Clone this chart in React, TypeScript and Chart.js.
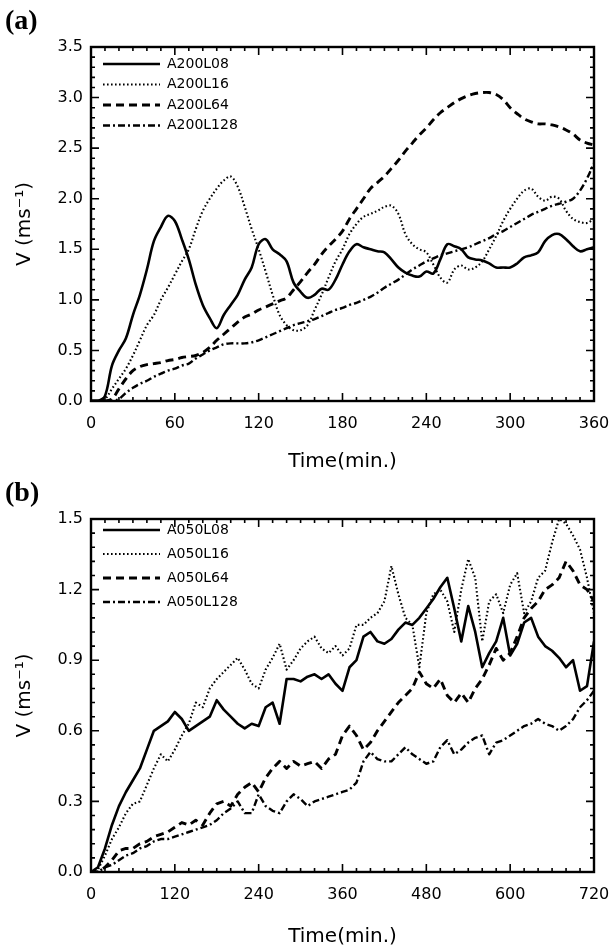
import React, { useEffect, useRef } from 'react';
import { Chart, registerables } from 'chart.js';
Chart.register(...registerables);

// ---------- Panel (a) data: time step 5 min ----------
const TIME_A = Array.from({ length: 73 }, (_, i) => i * 5);
const A200L08 = [
  0, 0, 0.05, 0.35, 0.5, 0.62, 0.85, 1.05, 1.3, 1.58,
  1.72, 1.83, 1.78, 1.6, 1.4, 1.15, 0.95, 0.82, 0.72, 0.85,
  0.95, 1.05, 1.2, 1.32, 1.55, 1.6, 1.5, 1.45, 1.38, 1.17,
  1.08, 1.02, 1.05, 1.11, 1.1, 1.2, 1.35, 1.48, 1.55, 1.52,
  1.5, 1.48, 1.47, 1.4, 1.32, 1.27, 1.24, 1.23, 1.28, 1.26,
  1.4, 1.55, 1.53, 1.5, 1.42, 1.4, 1.39, 1.36, 1.32, 1.32,
  1.32, 1.36, 1.42, 1.44, 1.47, 1.58, 1.64, 1.65, 1.6, 1.53,
  1.48, 1.5, 1.52,
];
const A200L16 = [
  0, 0, 0.02, 0.12, 0.22, 0.32, 0.45, 0.6, 0.75, 0.85,
  1.0, 1.12, 1.25, 1.38, 1.5, 1.7, 1.88, 2.0, 2.1, 2.18,
  2.22, 2.12, 1.92, 1.7, 1.5, 1.28, 1.05, 0.85, 0.75, 0.7,
  0.7, 0.75, 0.9, 1.05, 1.22, 1.38, 1.5, 1.65, 1.75, 1.82,
  1.85, 1.88, 1.92, 1.93, 1.85, 1.65, 1.55, 1.5, 1.47, 1.35,
  1.22, 1.17, 1.3, 1.34, 1.3, 1.32, 1.38, 1.5, 1.63, 1.78,
  1.9, 2.0, 2.08, 2.1, 2.02, 1.98, 2.02, 2.0, 1.88, 1.8,
  1.77, 1.76, 1.8,
];
const A200L64 = [
  0, 0, 0, 0.02, 0.12, 0.22, 0.3, 0.34, 0.36, 0.37,
  0.38, 0.4, 0.41, 0.43, 0.44, 0.45, 0.48, 0.53, 0.6, 0.66,
  0.72, 0.78, 0.83, 0.86, 0.9, 0.93, 0.96, 0.99, 1.02, 1.1,
  1.18, 1.27, 1.35, 1.45, 1.53, 1.6, 1.68, 1.8, 1.9, 2.0,
  2.1, 2.16, 2.22, 2.3, 2.38, 2.47, 2.55, 2.63, 2.7, 2.78,
  2.85, 2.9, 2.95, 2.99, 3.02, 3.04, 3.05, 3.05, 3.03, 2.98,
  2.9, 2.84, 2.79, 2.76, 2.74, 2.74, 2.73, 2.71, 2.68, 2.64,
  2.58, 2.55, 2.53,
];
const A200L128 = [
  0, 0, 0, 0, 0.02, 0.08, 0.13, 0.17, 0.2, 0.24,
  0.27, 0.3, 0.32, 0.35, 0.37, 0.42, 0.46, 0.5, 0.53, 0.56,
  0.57, 0.57, 0.57, 0.58, 0.6, 0.63, 0.66, 0.69, 0.72, 0.75,
  0.77, 0.79, 0.81, 0.84, 0.87, 0.9, 0.92, 0.95, 0.97, 1.0,
  1.03, 1.07, 1.12, 1.16, 1.2, 1.25, 1.3, 1.34, 1.38, 1.41,
  1.44, 1.46, 1.48, 1.5, 1.52, 1.55, 1.58, 1.61, 1.65, 1.68,
  1.72, 1.76, 1.8, 1.84, 1.87, 1.9, 1.93, 1.95, 1.97, 2.0,
  2.08, 2.2, 2.35,
];
const LABELS_A = ['A200L08', 'A200L16', 'A200L64', 'A200L128'];
const X_TICKS_A = [0, 60, 120, 180, 240, 300, 360];
const Y_TICKS_A = [0, 0.5, 1.0, 1.5, 2.0, 2.5, 3.0, 3.5];

// ---------- Panel (b) data: time step 10 min ----------
const TIME_B = Array.from({ length: 73 }, (_, i) => i * 10);
const A050L08 = [
  0, 0.02, 0.1, 0.2, 0.28, 0.34, 0.39, 0.44, 0.52, 0.6,
  0.62, 0.64, 0.68, 0.65, 0.6, 0.62, 0.64, 0.66, 0.73, 0.69,
  0.66, 0.63, 0.61, 0.63, 0.62, 0.7, 0.72, 0.63, 0.82, 0.82,
  0.81, 0.83, 0.84, 0.82, 0.84, 0.8, 0.77, 0.87, 0.9, 1.0,
  1.02, 0.98, 0.97, 0.99, 1.03, 1.06, 1.05, 1.08, 1.12, 1.16,
  1.21, 1.25, 1.12, 0.98, 1.13, 1.02, 0.87, 0.93, 0.98, 1.08,
  0.92, 0.97, 1.06, 1.08, 1.0, 0.96, 0.94, 0.91, 0.87, 0.9,
  0.77, 0.79, 0.98,
];
const A050L16 = [
  0, 0.01, 0.07, 0.14, 0.19, 0.25, 0.29, 0.3, 0.37, 0.44,
  0.5, 0.47, 0.52, 0.58, 0.63, 0.72, 0.7, 0.78, 0.82, 0.85,
  0.88, 0.91, 0.86, 0.8, 0.78, 0.86, 0.91, 0.97, 0.86, 0.9,
  0.95, 0.98, 1.0, 0.95, 0.93, 0.96, 0.92, 0.95, 1.05, 1.05,
  1.08, 1.1, 1.15, 1.3, 1.18, 1.08, 1.05, 0.87, 1.1, 1.18,
  1.2, 1.15, 1.02, 1.2, 1.33, 1.25, 0.98, 1.15, 1.18, 1.1,
  1.22, 1.27, 1.1, 1.15, 1.25, 1.28, 1.4, 1.5, 1.48, 1.43,
  1.37, 1.25, 1.1,
];
const A050L64 = [
  0, 0, 0.02, 0.05, 0.09, 0.1, 0.1, 0.12, 0.13, 0.15,
  0.16, 0.17, 0.19, 0.21, 0.2, 0.22, 0.2, 0.25, 0.29, 0.3,
  0.28, 0.33, 0.36, 0.38, 0.34, 0.4, 0.44, 0.47, 0.44, 0.47,
  0.45, 0.46, 0.47, 0.44, 0.48, 0.5, 0.58, 0.62, 0.58, 0.52,
  0.55, 0.6, 0.64, 0.68, 0.72, 0.75, 0.78, 0.85, 0.8, 0.78,
  0.82, 0.75, 0.72, 0.76, 0.72, 0.78, 0.82, 0.88, 0.95, 0.9,
  0.93, 1.0, 1.08, 1.12, 1.15, 1.2, 1.22, 1.25, 1.32, 1.28,
  1.22, 1.2, 1.15,
];
const A050L128 = [
  0, 0, 0.02, 0.03, 0.05, 0.07, 0.08, 0.1, 0.11, 0.13,
  0.14, 0.14, 0.15, 0.16, 0.17, 0.18, 0.19, 0.2, 0.22, 0.25,
  0.27, 0.3, 0.25, 0.25, 0.33, 0.28, 0.26, 0.25, 0.3, 0.33,
  0.31, 0.28, 0.3, 0.31, 0.32, 0.33, 0.34, 0.35, 0.38, 0.47,
  0.51, 0.48, 0.47, 0.47, 0.5, 0.53, 0.5, 0.48, 0.46, 0.47,
  0.53, 0.56, 0.5, 0.52, 0.55, 0.57, 0.58, 0.5, 0.55, 0.56,
  0.58, 0.6, 0.62, 0.63, 0.65, 0.63, 0.62, 0.6, 0.62, 0.65,
  0.7, 0.73, 0.77,
];
const LABELS_B = ['A050L08', 'A050L16', 'A050L64', 'A050L128'];
const X_TICKS_B = [0, 120, 240, 360, 480, 600, 720];
const Y_TICKS_B = [0, 0.3, 0.6, 0.9, 1.2, 1.5];

// ---------- styles ----------
const LINE_STYLES = [
  { dash: [] as number[], width: 2.6 },
  { dash: [1.6, 2.4], width: 2.1 },
  { dash: [8, 5], width: 2.9 },
  { dash: [7, 3, 2, 3], width: 2.4 },
];
const FONT = '"DejaVu Sans", sans-serif';

const decor = {
  id: 'decor',
  afterDatasetsDraw(chart: any, _args: any, opts: any) {
    const { ctx, chartArea: a } = chart;
    const xs = chart.scales.x;
    const ys = chart.scales.y;
    ctx.save();
    ctx.strokeStyle = '#000';
    ctx.lineWidth = 1.6;
    const nx = Math.round((xs.max - xs.min) / opts.xMinor);
    for (let i = 0; i <= nx; i++) {
      const p = xs.getPixelForValue(xs.min + i * opts.xMinor);
      const len = i % opts.xPer === 0 ? 8 : 4;
      ctx.beginPath();
      ctx.moveTo(p, a.bottom); ctx.lineTo(p, a.bottom - len);
      ctx.moveTo(p, a.top); ctx.lineTo(p, a.top + len);
      ctx.stroke();
    }
    const ny = Math.round((ys.max - ys.min) / opts.yMinor);
    for (let i = 0; i <= ny; i++) {
      const p = ys.getPixelForValue(ys.min + i * opts.yMinor);
      const len = i % opts.yPer === 0 ? 8 : 4;
      ctx.beginPath();
      ctx.moveTo(a.left, p); ctx.lineTo(a.left + len, p);
      ctx.moveTo(a.right, p); ctx.lineTo(a.right - len, p);
      ctx.stroke();
    }
    ctx.lineWidth = 2.4;
    ctx.strokeRect(a.left, a.top, a.right - a.left, a.bottom - a.top);

    chart.data.datasets.forEach((ds: any, i: number) => {
      const ly = opts.legendTop + i * opts.legendGap;
      ctx.setLineDash(ds.borderDash || []);
      ctx.lineWidth = ds.borderWidth;
      ctx.beginPath();
      ctx.moveTo(opts.legendX1, ly);
      ctx.lineTo(opts.legendX2, ly);
      ctx.stroke();
      ctx.setLineDash([]);
      ctx.fillStyle = '#000';
      ctx.font = '14px ' + FONT;
      ctx.textBaseline = 'middle';
      ctx.textAlign = 'left';
      ctx.fillText(ds.label, opts.legendX2 + 7, ly);
    });

    ctx.fillStyle = '#000';
    ctx.font = 'bold 28px "Liberation Serif", serif';
    ctx.textBaseline = 'alphabetic';
    ctx.fillText(opts.tag, 5, opts.tagY);
    ctx.restore();
  },
};

function makeConfig(p: any) {
  return {
    type: 'line',
    data: {
      datasets: p.series.map((s: number[], i: number) => ({
        label: p.labels[i],
        data: p.time.map((t: number, j: number) => ({ x: t, y: s[j] })),
        borderColor: '#000',
        backgroundColor: '#000',
        borderWidth: LINE_STYLES[i].width,
        borderDash: LINE_STYLES[i].dash,
        pointRadius: 0,
        fill: false,
        tension: p.tension,
        borderJoinStyle: 'round',
      })),
    },
    options: {
      responsive: false,
      animation: false,
      events: [],
      layout: { padding: { left: 0, right: 19, top: p.padTop, bottom: 0 } },
      plugins: {
        legend: { display: false },
        tooltip: { enabled: false },
        decor: p.decor,
      },
      scales: {
        x: {
          type: 'linear',
          min: p.xMin,
          max: p.xMax,
          grid: { display: false, drawTicks: false },
          border: { display: false },
          ticks: {
            color: '#000',
            font: { family: FONT, size: 16 },
            padding: 13,
            maxRotation: 0,
            autoSkip: false,
            callback: (v: any) => String(v),
          },
          afterBuildTicks: (s: any) => { s.ticks = p.xTicks.map((v: number) => ({ value: v })); },
          afterFit: (s: any) => { s.height = p.xAxisHeight; s.paddingLeft = 0; s.paddingRight = 0; },
          title: {
            display: true,
            text: 'Time(min.)',
            color: '#000',
            font: { family: FONT, size: 20, lineHeight: 1 },
            padding: { top: 0, bottom: p.xTitlePad },
          },
        },
        y: {
          type: 'linear',
          min: p.yMin,
          max: p.yMax,
          grid: { display: false, drawTicks: false },
          border: { display: false },
          ticks: {
            color: '#000',
            font: { family: FONT, size: 16 },
            padding: 8,
            autoSkip: false,
            callback: (v: any) => Number(v).toFixed(1),
          },
          afterBuildTicks: (s: any) => { s.ticks = p.yTicks.map((v: number) => ({ value: v })); },
          afterFit: (s: any) => { s.width = 91; s.paddingTop = 0; s.paddingBottom = 0; },
          title: {
            display: true,
            text: 'V (ms⁻¹)',
            color: '#000',
            font: { family: FONT, size: 20, lineHeight: 1 },
            padding: { top: 15, bottom: 0 },
          },
        },
      },
    },
    plugins: [decor],
  };
}

const PANEL_A = {
  time: TIME_A,
  series: [A200L08, A200L16, A200L64, A200L128],
  labels: LABELS_A,
  xTicks: X_TICKS_A,
  yTicks: Y_TICKS_A,
  xMin: 0, xMax: 360, yMin: 0, yMax: 3.5,
  tension: 0.35,
  padTop: 47,
  xAxisHeight: 71,
  xTitlePad: 0,
  decor: { xMinor: 10, xPer: 6, yMinor: 0.1, yPer: 5, legendTop: 64, legendGap: 20.5, legendX1: 103, legendX2: 160, tag: '(a)', tagY: 29 },
};
const PANEL_B = {
  time: TIME_B,
  series: [A050L08, A050L16, A050L64, A050L128],
  labels: LABELS_B,
  xTicks: X_TICKS_B,
  yTicks: Y_TICKS_B,
  xMin: 0, xMax: 720, yMin: 0, yMax: 1.5,
  tension: 0,
  padTop: 47,
  xAxisHeight: 75,
  xTitlePad: 0,
  decor: { xMinor: 20, xPer: 6, yMinor: 0.06, yPer: 5, legendTop: 58, legendGap: 24, legendX1: 103, legendX2: 160, tag: '(b)', tagY: 29 },
};

function Panel({ cfg, top, height }: { cfg: any; top: number; height: number }) {
  const ref = useRef<HTMLCanvasElement | null>(null);
  useEffect(() => {
    if (!ref.current) return;
    const chart = new Chart(ref.current, makeConfig(cfg) as any);
    return () => chart.destroy();
  }, [cfg]);
  return (
    <canvas
      ref={ref}
      width={613}
      height={height}
      style={{ position: 'absolute', left: 0, top, width: 613, height }}
    />
  );
}

export default function App() {
  return (
    <div style={{ position: 'fixed', left: 0, top: 0, width: 613, height: 947, background: '#fff', overflow: 'hidden' }}>
      <Panel cfg={PANEL_A} top={0} height={472} />
      <Panel cfg={PANEL_B} top={472} height={475} />
    </div>
  );
}
